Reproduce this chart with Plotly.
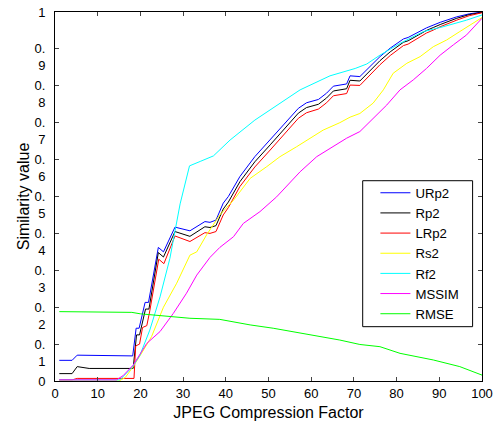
import plotly.graph_objects as go

# ---- data ----
urp2_x = [1, 4, 5.2, 18.2, 19, 19.7, 21.1, 21.9, 24.2, 25.4, 28.1, 31.6, 35.1, 36.3, 37.7, 39.4, 40.6, 43.3, 46.8, 50.4, 53.5, 57, 58.9, 61.7, 63.6, 65.2, 68.3, 69.1, 71.4, 76.1, 78.5, 81.6, 82.7, 87, 88.6, 90.2, 94.1, 97, 100]
urp2_y = [0.056, 0.056, 0.070, 0.068, 0.143, 0.143, 0.213, 0.213, 0.362, 0.350, 0.417, 0.407, 0.432, 0.430, 0.436, 0.482, 0.50, 0.554, 0.608, 0.653, 0.694, 0.739, 0.754, 0.763, 0.780, 0.799, 0.805, 0.827, 0.825, 0.879, 0.902, 0.927, 0.931, 0.957, 0.965, 0.972, 0.987, 0.995, 1.0]

rp2_x = [1, 4, 5.2, 8, 18.3, 19.1, 19.8, 21.2, 22.0, 24.2, 25.4, 28.1, 31.6, 35.1, 36.3, 37.7, 39.4, 40.6, 43.3, 46.8, 50.4, 53.5, 57, 58.9, 61.7, 63.6, 65.2, 68.3, 69.1, 71.4, 76.1, 78.5, 81.6, 82.7, 87, 88.6, 90.2, 94.1, 97, 100]
rp2_y = [0.02, 0.02, 0.039, 0.034, 0.034, 0.125, 0.125, 0.195, 0.195, 0.348, 0.336, 0.405, 0.392, 0.418, 0.416, 0.421, 0.466, 0.485, 0.540, 0.594, 0.640, 0.681, 0.726, 0.741, 0.750, 0.767, 0.786, 0.792, 0.815, 0.813, 0.868, 0.892, 0.918, 0.922, 0.950, 0.958, 0.966, 0.983, 0.993, 0.999]

lrp2_x = [1, 4, 5.2, 18.5, 18.9, 19.8, 20.5, 21.5, 22.2, 24.3, 25.5, 28.1, 31.6, 35.1, 36.3, 37.7, 39.4, 40.6, 43.3, 46.8, 50.4, 53.5, 57, 58.9, 61.7, 63.6, 65.2, 68.3, 69.1, 71.4, 76.1, 78.5, 81.6, 82.7, 87, 88.6, 90.2, 94.1, 97, 100]
lrp2_y = [0.003, 0.003, 0.007, 0.007, 0.095, 0.10, 0.145, 0.15, 0.19, 0.330, 0.318, 0.393, 0.378, 0.402, 0.400, 0.405, 0.45, 0.47, 0.527, 0.58, 0.626, 0.667, 0.712, 0.727, 0.737, 0.754, 0.773, 0.779, 0.802, 0.801, 0.857, 0.882, 0.909, 0.913, 0.943, 0.951, 0.960, 0.978, 0.99, 0.998]

rs2_x = [1, 15, 16.5, 18.3, 20, 22.6, 25.4, 28.5, 31.6, 33.2, 35.5, 38.6, 41.8, 45.7, 49.6, 52.7, 56.6, 59.7, 62.8, 66.7, 69.1, 71.4, 74.5, 76.9, 79.2, 82.4, 85.5, 88.6, 91.7, 94.8, 98, 100]
rs2_y = [0.0, 0.0, 0.01, 0.039, 0.07, 0.12, 0.20, 0.265, 0.341, 0.350, 0.396, 0.45, 0.49, 0.549, 0.581, 0.608, 0.635, 0.658, 0.68, 0.700, 0.715, 0.725, 0.753, 0.789, 0.834, 0.861, 0.879, 0.906, 0.924, 0.947, 0.969, 0.985]

rf2_x = [1, 15.2, 18.2, 19.9, 22.2, 24.6, 26.9, 29.3, 31.5, 32, 34, 37.1, 41, 46.8, 52.7, 57.4, 64.4, 70.3, 73, 76.1, 80.8, 86.3, 90.9, 96.4, 100]
rf2_y = [0.003, 0.003, 0.039, 0.07, 0.138, 0.228, 0.332, 0.48, 0.583, 0.585, 0.595, 0.61, 0.653, 0.707, 0.752, 0.789, 0.827, 0.847, 0.859, 0.883, 0.915, 0.947, 0.960, 0.978, 0.992]

mssim_x = [1, 14.4, 16, 18.3, 21.5, 24.6, 27.7, 30.8, 33.2, 36.3, 38.6, 41.8, 44.1, 48, 51.9, 55, 57.4, 61.3, 64.4, 68.3, 71.4, 74.5, 77.7, 80.8, 83.9, 87, 90.2, 93.3, 96.4, 100]
mssim_y = [0.003, 0.003, 0.015, 0.043, 0.102, 0.134, 0.183, 0.238, 0.287, 0.335, 0.362, 0.391, 0.427, 0.459, 0.499, 0.536, 0.567, 0.608, 0.631, 0.658, 0.676, 0.712, 0.748, 0.789, 0.816, 0.847, 0.883, 0.911, 0.938, 0.983]

rmse_x = [1, 10, 18, 20, 29.3, 31.6, 38.6, 45.7, 51.1, 58.9, 66.7, 71.4, 76.1, 80.8, 88.6, 94.8, 100]
rmse_y = [0.188, 0.188, 0.186, 0.182, 0.173, 0.170, 0.167, 0.152, 0.143, 0.127, 0.111, 0.099, 0.093, 0.075, 0.057, 0.039, 0.016]

x_ticks = [0, 10, 20, 30, 40, 50, 60, 70, 80, 90, 100]
y_ticks = [0, 0.1, 0.2, 0.3, 0.4, 0.5, 0.6, 0.7, 0.8, 0.9, 1]
y_ticktext = ["0", " <br>0.<br>1", " <br>0.<br>2", " <br>0.<br>3", " <br>0.<br>4", " <br>0.<br>5",
              " <br>0.<br>6", " <br>0.<br>7", " <br>0.<br>8", " <br>0.<br>9", "1"]

series = [
    ("URp2", urp2_x, urp2_y, "#0000ff"),
    ("Rp2", rp2_x, rp2_y, "#000000"),
    ("LRp2", lrp2_x, lrp2_y, "#ff0000"),
    ("Rs2", rs2_x, rs2_y, "#ffff00"),
    ("Rf2", rf2_x, rf2_y, "#00ffff"),
    ("MSSIM", mssim_x, mssim_y, "#ff00ff"),
    ("RMSE", rmse_x, rmse_y, "#00ff00"),
]

fig = go.Figure()
for name, xs, ys, col in series:
    fig.add_trace(go.Scatter(x=xs, y=ys, mode="lines", name=name,
                             line=dict(color=col, width=1)))

fam = "Liberation Sans, Arial, sans-serif"
font = dict(family=fam, size=13, color="black")

# legend frame (styling only)
fig.add_shape(type="rect", xref="paper", yref="paper",
              x0=0.7206, x1=0.978, y0=0.1472, y1=0.5428,
              line=dict(color="black", width=1), fillcolor="white", layer="below")

fig.update_layout(
    width=501, height=421,
    margin=dict(l=55, r=19, t=12, b=40, autoexpand=False),
    paper_bgcolor="white", plot_bgcolor="white",
    font=font,
    showlegend=True,
    legend=dict(x=0.7504, y=0.551, xanchor="left", yanchor="top",
                borderwidth=0, bgcolor="rgba(0,0,0,0)",
                font=dict(family=fam, size=13.2, color="black"),
                tracegroupgap=0),
)
fig.update_xaxes(range=[0, 100], tickvals=x_ticks, ticks="inside", ticklen=4,
                 showline=True, linecolor="black", linewidth=1, mirror="ticks",
                 showgrid=False, zeroline=False, automargin=False, ticklabeloverflow="allow",
                 title=dict(text="JPEG Compression Factor"))
fig.update_yaxes(range=[0, 1], tickvals=y_ticks, ticktext=y_ticktext, ticks="inside", ticklen=4,
                 showline=True, linecolor="black", linewidth=1, mirror="ticks",
                 showgrid=False, zeroline=False, ticklabelstandoff=6, automargin=False,
                 ticklabeloverflow="allow",
                 title=dict(text="Similarity value", standoff=0))

fig.write_html("out.html", config={"displayModeBar": False},
               post_script="document.body.style.margin='0';document.body.style.overflow='hidden';")
